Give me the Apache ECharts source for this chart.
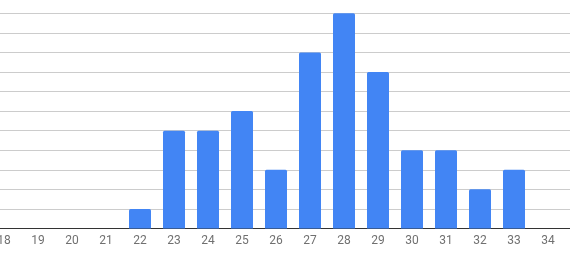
<!DOCTYPE html>
<html><head><meta charset="utf-8">
<script src="https://cdn.jsdelivr.net/npm/echarts@6/dist/echarts.min.js"></script>
<style>html,body{margin:0;padding:0;background:#fff}#c{width:570px;height:253px}</style>
</head><body><div id="c"></div>
<script>
const categories = ['18','19','20','21','22','23','24','25','26','27','28','29','30','31','32','33','34'];
const counts = [0,0,0,0,1,5,5,6,3,9,11,8,4,4,2,3,0];
const yMax = 11;

const chart = echarts.init(document.getElementById('c'), null, {renderer:'canvas'});
chart.setOption({
  animation:false,
  grid:[
    {left:0,right:0,top:13.3,bottom:24.5,outerBoundsMode:'none'},
    {left:4,right:22,top:13.3,bottom:24.5,outerBoundsMode:'none'}
  ],
  xAxis:[
    {gridIndex:0,type:'value',min:0,max:1,axisLabel:{show:false},axisTick:{show:false},splitLine:{show:false},
     axisLine:{show:true,lineStyle:{color:'#333',width:1}}},
    {gridIndex:1,type:'category',data:categories,boundaryGap:false,axisLine:{show:false},axisTick:{show:false},
     splitLine:{show:false},
     axisLabel:{color:'#707070',fontSize:12,fontFamily:'Roboto',margin:6,interval:0}}
  ],
  yAxis:[
    {gridIndex:0,type:'value',min:0,max:yMax,interval:1,axisLabel:{show:false},axisLine:{show:false},axisTick:{show:false},
     splitLine:{show:true,lineStyle:{color:'#cccccc',width:1}}},
    {gridIndex:1,type:'value',min:0,max:yMax,interval:1,show:false}
  ],
  series:[{
    type:'bar',xAxisIndex:1,yAxisIndex:1,data:counts,barWidth:22,
    itemStyle:{color:'#4285f4',borderRadius:[1.5,1.5,0,0]}
  }]
});
</script></body></html>
